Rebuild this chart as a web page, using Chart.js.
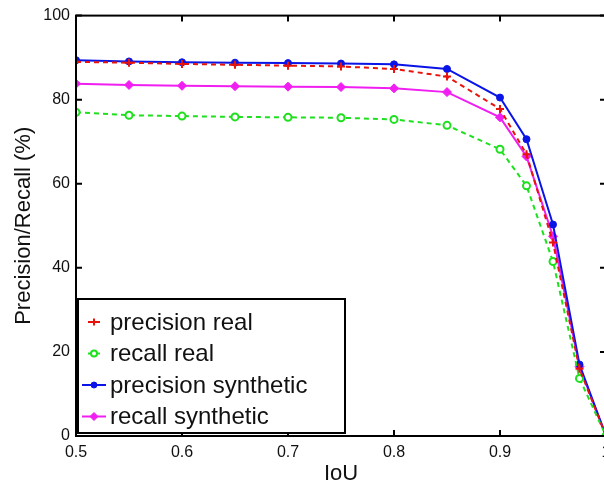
<!DOCTYPE html>
<html>
<head>
<meta charset="utf-8">
<script src="https://cdn.jsdelivr.net/npm/chart.js@4/dist/chart.umd.min.js"></script>
<style>
  html, body { margin: 0; padding: 0; background: #fff; overflow: hidden; }
  canvas { display: block; }
</style>
</head>
<body>
<canvas id="pr-chart" width="620" height="488"></canvas>
<script>
const iou = [0.5, 0.55, 0.6, 0.65, 0.7, 0.75, 0.8, 0.85, 0.9, 0.925, 0.95, 0.975, 1.0];
const precisionReal = [89.0, 88.8, 88.5, 88.3, 88.1, 87.9, 87.3, 85.5, 77.8, 67.0, 46.0, 16.0, 0];
const recallReal = [77.0, 76.3, 76.1, 75.9, 75.8, 75.7, 75.3, 73.9, 68.2, 59.5, 41.5, 13.7, 0];
const precisionSynthetic = [89.4, 89.1, 88.9, 88.8, 88.7, 88.6, 88.4, 87.3, 80.5, 70.6, 50.3, 17.0, 0];
const recallSynthetic = [83.8, 83.5, 83.3, 83.2, 83.1, 83.0, 82.7, 81.8, 75.8, 66.5, 47.5, 16.5, 0];
const xTicks = [0.5, 0.6, 0.7, 0.8, 0.9, 1.0];
const yTicks = [0, 20, 40, 60, 80, 100];

const FONT = "'Liberation Sans', Arial, Helvetica, sans-serif";

const points = ys => ys.map((y, i) => ({ x: iou[i], y }));

const datasets = [
  {
    label: "precision real",
    data: points(precisionReal),
    borderColor: "#e8140c",
    backgroundColor: "#e8140c",
    borderWidth: 2,
    borderDash: [5, 4],
    pointStyle: "cross",
    pointRadius: 4,
    pointBorderWidth: 2,
  },
  {
    label: "recall real",
    data: points(recallReal),
    borderColor: "#1ee01e",
    backgroundColor: "#ffffff",
    borderWidth: 2,
    borderDash: [5, 4],
    pointStyle: "circle",
    pointRadius: 3.5,
    pointBorderWidth: 2,
  },
  {
    label: "precision synthetic",
    data: points(precisionSynthetic),
    borderColor: "#0a14e6",
    backgroundColor: "#0a14e6",
    borderWidth: 2,
    pointStyle: "circle",
    pointRadius: 3.5,
    pointBorderWidth: 1,
  },
  {
    label: "recall synthetic",
    data: points(recallSynthetic),
    borderColor: "#f01ef0",
    backgroundColor: "#f01ef0",
    borderWidth: 2,
    pointStyle: "rectRot",
    pointRadius: 4.5,
    pointBorderWidth: 1,
  },
];

// frame and inward ticks on all four sides
const framePlugin = {
  id: "frame",
  afterDatasetsDraw(chart) {
    const { ctx, chartArea: a, scales } = chart;
    ctx.save();
    ctx.strokeStyle = "#000";
    ctx.lineWidth = 2;
    ctx.strokeRect(a.left, a.top, a.right - a.left, a.bottom - a.top);
    const len = 6;
    ctx.beginPath();
    xTicks.forEach(v => {
      const px = scales.x.getPixelForValue(v);
      ctx.moveTo(px, a.bottom); ctx.lineTo(px, a.bottom - len);
      ctx.moveTo(px, a.top); ctx.lineTo(px, a.top + len);
    });
    yTicks.forEach(v => {
      const py = scales.y.getPixelForValue(v);
      ctx.moveTo(a.left, py); ctx.lineTo(a.left + len, py);
      ctx.moveTo(a.right, py); ctx.lineTo(a.right - len, py);
    });
    ctx.stroke();
    ctx.restore();
  },
};

// boxed legend in the lower left corner of the plot
const boxLegend = {
  id: "boxLegend",
  afterDraw(chart) {
    const { ctx, chartArea: a } = chart;
    const left = a.left + 2, top = 299, right = 345, bottom = a.bottom - 3;
    ctx.save();
    ctx.fillStyle = "#fff";
    ctx.fillRect(left, top, right - left, bottom - top);
    ctx.strokeStyle = "#000";
    ctx.lineWidth = 2;
    ctx.strokeRect(left, top, right - left, bottom - top);
    ctx.font = "24px " + FONT;
    ctx.textBaseline = "middle";
    datasets.forEach((ds, i) => {
      const y = 322 + i * 31.5;
      ctx.strokeStyle = ds.borderColor;
      ctx.lineWidth = 2;
      ctx.beginPath();
      if (i < 2) { ctx.moveTo(88, y); ctx.lineTo(100, y); }
      else { ctx.moveTo(82, y); ctx.lineTo(106, y); }
      ctx.stroke();
      ctx.fillStyle = ds.backgroundColor;
      ctx.lineWidth = ds.pointBorderWidth;
      Chart.helpers.drawPoint(ctx, {
        pointStyle: ds.pointStyle,
        radius: ds.pointRadius - 0.5,
        rotation: 0,
        borderWidth: ds.pointBorderWidth,
      }, 94, y);
      ctx.fillStyle = "#111";
      ctx.fillText(ds.label, 110, y + 1);
    });
    ctx.restore();
  },
};

new Chart(document.getElementById("pr-chart"), {
  type: "line",
  data: { datasets },
  plugins: [framePlugin, boxLegend],
  options: {
    responsive: false,
    animation: false,
    layout: { padding: { top: 15, right: 14, left: 0, bottom: 0 } },
    plugins: { legend: { display: false }, tooltip: { enabled: false } },
    scales: {
      x: {
        type: "linear",
        min: 0.5,
        max: 1.0,
        afterFit: s => { s.height = 52; },
        afterBuildTicks: s => { s.ticks = xTicks.map(v => ({ value: v })); },
        grid: { display: false, drawTicks: false },
        border: { display: false },
        ticks: {
          padding: 7,
          color: "#111",
          font: { family: FONT, size: 16 },
          callback: v => (v === 1 ? "1" : v.toFixed(1)),
        },
        title: {
          display: true,
          text: "IoU",
          color: "#111",
          font: { family: FONT, size: 22 },
          padding: { top: 0, bottom: 1 },
        },
      },
      y: {
        min: 0,
        max: 100,
        afterFit: s => { s.width = 76; },
        afterBuildTicks: s => { s.ticks = yTicks.map(v => ({ value: v })); },
        grid: { display: false, drawTicks: false },
        border: { display: false },
        ticks: {
          padding: 6,
          color: "#111",
          font: { family: FONT, size: 16 },
        },
        title: {
          display: true,
          text: "Precision/Recall (%)",
          color: "#111",
          font: { family: FONT, size: 22 },
          padding: { top: 11, bottom: 0 },
        },
      },
    },
  },
});
</script>
</body>
</html>
